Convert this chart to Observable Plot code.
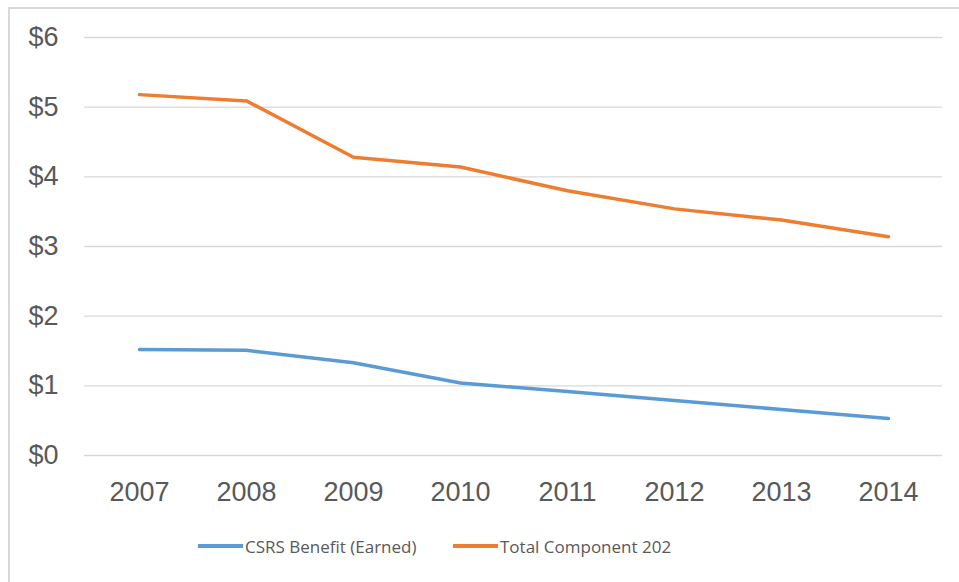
<!DOCTYPE html>
<html>
<head>
<meta charset="utf-8">
<script src="https://cdn.jsdelivr.net/npm/d3@7"></script>
<script src="https://cdn.jsdelivr.net/npm/@observablehq/plot@0.6"></script>
<style>
  html, body { margin: 0; padding: 0; background: #fff; overflow: hidden; width: 959px; height: 582px; }
  #frame { position: absolute; left: 8px; top: 7px; width: 1200px; height: 1200px; border: 2px solid #d9d9d9; box-sizing: border-box; }
  #chart { position: absolute; left: 0; top: 0; }
  #legend { position: absolute; left: 0; top: 534px; width: 959px; height: 24px; font-family: "Open Sans", "Liberation Sans", sans-serif; font-size: 17px; color: #595959; }
  .item { position: absolute; top: 0; display: flex; align-items: center; height: 24px; white-space: nowrap; }
  .sw { width: 45px; height: 3.5px; margin-right: 2px; }
</style>
</head>
<body>
<div id="frame"></div>
<div id="chart"></div>
<div id="legend"></div>
<script>
const years = ["2007", "2008", "2009", "2010", "2011", "2012", "2013", "2014"];
const csrsBenefit = [1.52, 1.51, 1.33, 1.04, 0.92, 0.79, 0.66, 0.53];
const totalComponent = [5.18, 5.09, 4.28, 4.14, 3.80, 3.54, 3.38, 3.14];
const seriesNames = ["CSRS Benefit (Earned)", "Total Component 202"];
const seriesColors = ["#5B9BD5", "#ED7D31"];
const yTicks = [0, 1, 2, 3, 4, 5, 6];

const rows = [];
years.forEach((y, i) => {
  rows.push({year: y, value: csrsBenefit[i], series: seriesNames[0]});
  rows.push({year: y, value: totalComponent[i], series: seriesNames[1]});
});

const chart = Plot.plot({
  width: 959,
  height: 515,
  marginLeft: 84,
  marginRight: 17,
  marginTop: 37,
  marginBottom: 60,
  style: {fontFamily: "'Liberation Sans', Arial, sans-serif", background: "transparent", color: "#595959"},
  x: {type: "point", domain: years, padding: 0.5, label: null},
  y: {domain: [0, 6], label: null},
  color: {domain: seriesNames, range: seriesColors},
  marks: [
    Plot.gridY(yTicks, {stroke: "#d9d9d9", strokeOpacity: 1, strokeWidth: 1.3}),
    Plot.axisY(yTicks, {tickSize: 0, tickPadding: 26, tickFormat: d => "$" + d, fontSize: 27, fill: "#595959", label: null}),
    Plot.axisX({tickSize: 0, tickPadding: 26, fontSize: 27, fill: "#595959", label: null}),
    Plot.lineY(rows, {x: "year", y: "value", z: "series", stroke: "series", strokeWidth: 3.5, strokeLinecap: "round", strokeLinejoin: "round"})
  ]
});
document.getElementById("chart").appendChild(chart);

const legend = document.getElementById("legend");
const legendX = [198, 453];
seriesNames.forEach((name, i) => {
  const item = document.createElement("div");
  item.className = "item";
  item.style.left = legendX[i] + "px";
  const sw = document.createElement("div");
  sw.className = "sw";
  sw.style.background = seriesColors[i];
  const t = document.createElement("span");
  t.textContent = name;
  item.appendChild(sw);
  item.appendChild(t);
  legend.appendChild(item);
});
</script>
</body>
</html>
